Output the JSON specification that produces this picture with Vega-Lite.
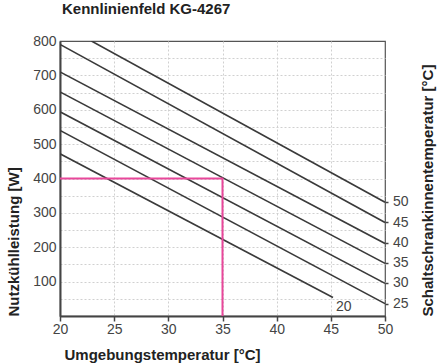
{
  "$schema": "https://vega.github.io/schema/vega-lite/v6.json",
  "width": 325,
  "height": 275,
  "autosize": "none",
  "padding": {"left": 60, "top": 41, "right": 53, "bottom": 48},
  "background": "white",
  "title": {"text": "Kennlinienfeld KG-4267", "anchor": "start", "frame": "group", "dx": 2, "offset": 17, "fontSize": 15, "fontWeight": "bold", "font": "Liberation Sans", "color": "#222"},
  "config": {
    "view": {"stroke": "#555", "strokeWidth": 1.2},
    "font": "Liberation Sans",
    "axis": {"gridColor": "#d0d0d0", "gridDash": [2, 2], "gridWidth": 1, "labelFont": "Liberation Sans", "labelFontSize": 14, "labelColor": "#444", "titleFont": "Liberation Sans", "titleFontSize": 15, "titleFontWeight": "bold", "titleColor": "#222", "domainColor": "#444", "domainWidth": 2, "tickColor": "#444", "tickWidth": 1.5},
    "axisX": {"values": [20, 22.5, 25, 27.5, 30, 32.5, 35, 37.5, 40, 42.5, 45, 47.5, 50],
      "labelExpr": "datum.value % 5 === 0 ? datum.label : ''", "tickSize": 5, "labelPadding": 1,
      "gridOpacity": {"condition": {"test": "datum.value === 50 || datum.value === 20", "value": 0}, "value": 1},
      "titleX": 4, "titleY": 38, "titleAlign": "left", "titleBaseline": "middle", "labelFlush": false, "labelOverlap": false}
  },
  "datasets": {
    "curves": [
      {"curve": "50", "T": 22.9, "W": 800}, {"curve": "50", "T": 50, "W": 331},
      {"curve": "45", "T": 20, "W": 790}, {"curve": "45", "T": 50, "W": 272},
      {"curve": "40", "T": 20, "W": 710}, {"curve": "40", "T": 50, "W": 211},
      {"curve": "35", "T": 20, "W": 652}, {"curve": "35", "T": 50, "W": 153},
      {"curve": "30", "T": 20, "W": 594}, {"curve": "30", "T": 50, "W": 95},
      {"curve": "25", "T": 20, "W": 540}, {"curve": "25", "T": 50, "W": 36},
      {"curve": "20", "T": 20, "W": 472}, {"curve": "20", "T": 45.2, "W": 54}
    ],
    "pink": [
      {"step": 1, "T": 20, "W": 400},
      {"step": 2, "T": 35, "W": 400},
      {"step": 3, "T": 35, "W": 0}
    ]
  },
  "resolve": {"axis": {"y": "independent"}},
  "layer": [
    {
      "data": {"name": "curves"},
      "mark": {"type": "line", "color": "#3a3a3a", "strokeWidth": 1.6, "clip": true},
      "encoding": {
        "x": {"field": "T", "type": "quantitative", "title": "Umgebungstemperatur [°C]", "scale": {"domain": [20, 50], "nice": false, "zero": false}},
        "y": {"field": "W", "type": "quantitative", "scale": {"domain": [0, 800], "nice": false},
          "axis": {"title": "Nutzkühlleistung [W]", "values": [0, 50, 100, 150, 200, 250, 300, 350, 400, 450, 500, 550, 600, 650, 700, 750, 800],
            "labelExpr": "datum.value % 100 === 0 && datum.value > 0 ? datum.label : ''", "ticks": false, "labelPadding": 4,
            "gridOpacity": {"condition": {"test": "datum.value === 800 || datum.value === 0", "value": 0}, "value": 1},
            "titleX": -47, "titleY": 275, "titleAngle": 270, "titleAlign": "left", "titleBaseline": "middle", "labelFlush": false, "labelOverlap": false}},
        "detail": {"field": "curve"}
      }
    },
    {
      "data": {"name": "pink"},
      "mark": {"type": "line", "color": "#e8479a", "strokeWidth": 2},
      "encoding": {
        "x": {"field": "T", "type": "quantitative", "title": "Umgebungstemperatur [°C]"},
        "y": {"field": "W", "type": "quantitative", "axis": null},
        "order": {"field": "step"}
      }
    },
    {
      "data": {"name": "curves"},
      "transform": [{"filter": "datum.T === 50"}],
      "mark": {"type": "text", "align": "left", "baseline": "middle", "dx": 8, "fontSize": 14, "color": "#444", "clip": false},
      "encoding": {
        "x": {"field": "T", "type": "quantitative", "title": "Umgebungstemperatur [°C]"},
        "y": {"field": "W", "type": "quantitative", "axis": null},
        "text": {"field": "curve"}
      }
    },
    {
      "data": {"name": "curves"},
      "transform": [{"filter": "datum.curve === '20' && datum.T > 40"}],
      "mark": {"type": "text", "align": "left", "baseline": "middle", "dx": 3, "dy": 10, "fontSize": 14, "color": "#444"},
      "encoding": {
        "x": {"field": "T", "type": "quantitative", "title": "Umgebungstemperatur [°C]"},
        "y": {"field": "W", "type": "quantitative", "axis": null},
        "text": {"field": "curve"}
      }
    },
    {
      "data": {"name": "curves"},
      "mark": {"type": "point", "opacity": 0},
      "encoding": {
        "x": {"field": "T", "type": "quantitative", "title": "Umgebungstemperatur [°C]"},
        "y": {"field": "W", "type": "quantitative",
          "axis": {"orient": "right", "title": "Schaltschrankinnentemperatur [°C]", "labels": false, "ticks": true, "tickSize": 3, "values": [36, 95, 153, 211, 272, 331], "domain": false, "grid": false,
            "titleX": 42, "titleY": 275, "titleAngle": 270, "titleAlign": "left", "titleBaseline": "middle"}}
      }
    }
  ]
}
